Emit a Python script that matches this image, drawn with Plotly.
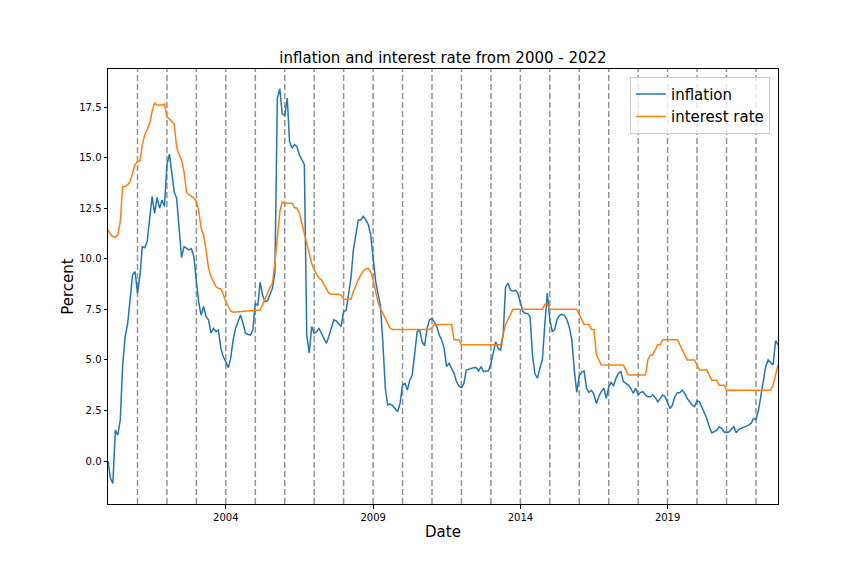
import pandas as pd
import plotly.graph_objects as go

start_month = "2000-01-01"

inflation = [
    0.0, -0.86, -1.1, 1.53, 1.29, 2.03, 4.75, 6.15, 6.81, 8.05,
    9.2, 9.37, 8.3, 9.2, 10.6, 10.55, 10.85, 12.0, 13.08, 12.25,
    13.03, 12.5, 12.9, 12.58, 14.65, 15.17, 14.3, 13.3, 13.0, 11.5,
    10.06, 10.6, 10.5, 10.44, 10.5, 10.1, 8.87, 7.8, 7.22, 7.64,
    7.14, 6.98, 6.32, 6.56, 6.4, 6.48, 5.57, 5.16, 4.91, 4.62,
    5.08, 5.99, 6.56, 6.89, 7.22, 6.81, 6.32, 6.27, 6.23, 6.48,
    7.8, 7.69, 8.84, 8.21, 7.88, 7.92, 8.21, 8.54, 9.3, 17.94,
    18.4, 17.15, 17.09, 17.94, 15.8, 15.47, 15.64, 15.55, 15.14, 14.9,
    14.65, 6.23, 5.33, 6.65, 6.32, 6.4, 6.56, 6.32, 6.07, 5.82,
    6.15, 6.56, 6.98, 6.93, 6.76, 6.65, 7.39, 7.44, 8.21, 9.04,
    10.44, 11.18, 11.92, 11.92, 12.1, 11.92, 11.7, 11.2, 10.0, 8.9,
    8.3, 7.7, 5.9, 3.6, 2.77, 2.82, 2.74, 2.6, 2.44, 2.85,
    3.76, 3.84, 3.51, 4.0, 4.26, 5.33, 6.4, 6.48, 5.9, 5.7,
    6.56, 6.98, 7.06, 6.86, 6.65, 6.23, 5.99, 5.57, 4.67, 4.83,
    4.58, 4.34, 3.93, 3.71, 3.63, 3.84, 4.5, 4.55, 4.58, 4.62,
    4.63, 4.45, 4.67, 4.42, 4.45, 4.45, 4.83, 5.41, 5.9, 5.57,
    5.49, 6.2, 8.6, 8.8, 8.45, 8.4, 8.45, 8.3, 7.9, 7.4,
    7.3, 7.3, 7.15, 5.2, 4.3, 4.1, 4.6, 5.0, 6.8, 8.3,
    7.0, 6.4, 6.5, 7.0, 7.2, 7.25, 7.2, 7.0, 6.6, 6.0,
    4.5, 3.4, 4.2, 4.4, 4.45, 3.6, 3.4, 3.5, 3.3, 2.85,
    3.2, 3.45, 3.6, 3.1, 3.65, 3.9, 3.7, 4.1, 4.34, 4.42,
    3.93, 3.84, 3.76, 3.6, 3.35, 3.6, 3.27, 3.4, 3.43, 3.27,
    3.18, 3.18, 3.27, 3.15, 2.93, 3.1, 3.27, 3.18, 2.93, 2.6,
    2.77, 3.18, 3.38, 3.38, 3.51, 3.35, 3.1, 2.93, 2.77, 2.69,
    2.98, 2.93, 2.69, 2.36, 2.11, 1.7, 1.4, 1.45, 1.53, 1.7,
    1.62, 1.45, 1.4, 1.45, 1.57, 1.7, 1.4, 1.57, 1.62, 1.67,
    1.7, 1.78, 1.86, 2.11, 2.06, 2.52, 3.18, 4.0, 4.67, 5.0,
    4.9, 4.75, 5.95, 5.75,
]

interest_rate = [
    11.43, 11.18, 11.1, 11.07, 11.18, 11.84, 13.57, 13.57, 13.66, 13.82,
    14.23, 14.65, 14.81, 14.84, 15.63, 16.13, 16.38, 16.7, 17.28, 17.7,
    17.6, 17.6, 17.6, 17.65, 17.0, 16.9, 16.8, 16.66, 15.55, 15.14,
    14.9, 14.3, 13.28, 13.16, 13.1, 13.0, 12.83, 12.34, 11.51, 11.18,
    10.44, 9.53, 9.12, 8.87, 8.63, 8.54, 8.51, 8.25, 7.88, 7.64,
    7.42, 7.36, 7.37, 7.38, 7.39, 7.4, 7.41, 7.42, 7.43, 7.44,
    7.45, 7.46, 7.47, 7.72, 8.05, 8.3, 8.58, 8.79, 9.8, 11.2,
    12.34, 12.8, 12.75, 12.75, 12.75, 12.75, 12.53, 12.5, 12.25, 11.76,
    11.26, 10.77, 10.19, 9.78, 9.45, 9.2, 9.04, 8.96, 8.71, 8.51,
    8.3, 8.25, 8.25, 8.25, 8.25, 8.21, 8.0, 8.0, 8.0, 8.0,
    8.38, 8.71, 8.96, 9.2, 9.4, 9.5, 9.53, 9.34, 8.96, 8.38,
    7.88, 7.55, 7.31, 7.03, 6.76, 6.56, 6.5, 6.5, 6.5, 6.5,
    6.5, 6.5, 6.5, 6.5, 6.5, 6.5, 6.5, 6.5, 6.5, 6.5,
    6.5, 6.5, 6.6, 6.75, 6.75, 6.75, 6.75, 6.75, 6.75, 6.75,
    6.75, 6.0, 6.0, 6.0, 5.75, 5.75, 5.75, 5.75, 5.75, 5.75,
    5.75, 5.75, 5.75, 5.75, 5.75, 5.75, 5.75, 5.75, 5.75, 5.75,
    5.75, 6.25, 6.75, 7.0, 7.25, 7.5, 7.5, 7.5, 7.5, 7.5,
    7.5, 7.5, 7.5, 7.5, 7.5, 7.5, 7.5, 7.5, 7.75, 7.75,
    7.5, 7.5, 7.5, 7.5, 7.5, 7.5, 7.5, 7.5, 7.5, 7.5,
    7.5, 7.5, 7.25, 7.0, 6.75, 6.75, 6.75, 6.5, 6.5, 5.25,
    5.0, 4.75, 4.75, 4.75, 4.75, 4.75, 4.75, 4.75, 4.75, 4.75,
    4.75, 4.5, 4.25, 4.25, 4.25, 4.25, 4.25, 4.25, 4.25, 4.25,
    5.0, 5.25, 5.25, 5.5, 5.75, 5.75, 6.0, 6.0, 6.0, 6.0,
    6.0, 6.0, 6.0, 5.75, 5.5, 5.25, 5.0, 5.0, 5.0, 5.0,
    4.75, 4.5, 4.5, 4.5, 4.5, 4.25, 4.0, 4.0, 4.0, 3.75,
    3.75, 3.75, 3.5, 3.5, 3.5, 3.5, 3.5, 3.5, 3.5, 3.5,
    3.5, 3.5, 3.5, 3.5, 3.5, 3.5, 3.5, 3.5, 3.5, 3.5,
    3.5, 3.75, 4.25, 4.75,
]

year_lines = list(range(2001, 2023))
x_tick_years = [2004, 2009, 2014, 2019]
y_ticks = [0.0, 2.5, 5.0, 7.5, 10.0, 12.5, 15.0, 17.5]

dates = pd.date_range(start_month, periods=len(inflation), freq="MS")

fig = go.Figure()
fig.add_trace(go.Scatter(x=dates, y=inflation, mode="lines", name="inflation",
                         line=dict(color="#1f77b4", width=1.5)))
fig.add_trace(go.Scatter(x=dates, y=interest_rate, mode="lines", name="interest rate",
                         line=dict(color="#ff7f0e", width=1.5)))

for yr in year_lines:
    fig.add_shape(type="line", xref="x", yref="paper",
                  x0=f"{yr}-01-01", x1=f"{yr}-01-01", y0=0, y1=1,
                  line=dict(color="rgba(128,128,128,0.85)", width=1.5, dash="6px,3px"),
                  layer="below")

font_family = "DejaVu Sans"
fig.update_layout(
    width=864, height=576,
    margin=dict(l=100, r=94, t=61, b=80),
    paper_bgcolor="white", plot_bgcolor="white",
    font=dict(family=font_family, color="black", size=10),
    title=dict(text="inflation and interest rate from 2000 - 2022",
               font=dict(size=15, family=font_family, color="black"),
               x=0.5, xref="paper", xanchor="center",
               y=1, yref="paper", yanchor="bottom", pad=dict(b=6)),
    showlegend=True,
    legend=dict(x=0.988, y=0.982, xanchor="right", yanchor="top",
                bgcolor="rgba(255,255,255,0.8)", bordercolor="#cccccc", borderwidth=1,
                font=dict(size=15, family=font_family, color="black"),
                tracegroupgap=0, itemwidth=30),
)

fig.update_xaxes(
    type="date",
    range=[dates[0], dates[-1]],
    tickvals=[f"{y}-01-01" for y in x_tick_years],
    ticktext=[str(y) for y in x_tick_years],
    ticks="outside", ticklen=3.5, tickwidth=1, tickcolor="black",
    showline=True, linecolor="black", linewidth=1, mirror=True,
    showgrid=False, zeroline=False,
    tickfont=dict(size=10, family=font_family, color="black"),
    title=dict(text="Date", font=dict(size=15, family=font_family, color="black"), standoff=4),
    automargin=False,
)
fig.update_yaxes(
    range=[-2.12, 19.38],
    tickvals=y_ticks,
    tickformat=".1f",
    ticks="outside", ticklen=3.5, tickwidth=1, tickcolor="black",
    showline=True, linecolor="black", linewidth=1, mirror=True,
    showgrid=False, zeroline=False,
    tickfont=dict(size=10, family=font_family, color="black"),
    title=dict(text="Percent", font=dict(size=15, family=font_family, color="black"), standoff=1),
    automargin=False,
)

fig.write_html("out.html")
